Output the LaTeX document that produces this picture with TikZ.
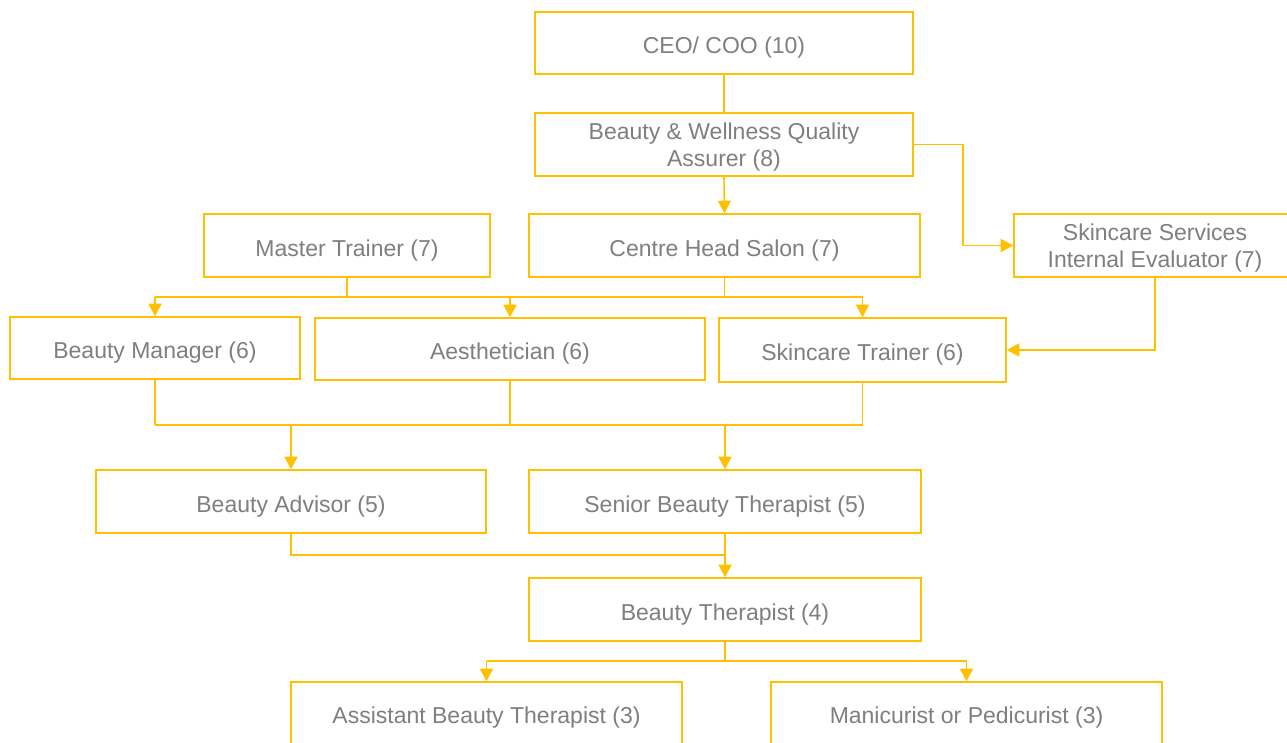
\documentclass[tikz,border=0pt]{standalone}
\usepackage{fontspec}
\setmainfont{Liberation Sans}
\usetikzlibrary{arrows.meta,calc}
\definecolor{gold}{HTML}{FFC000}
\definecolor{txt}{HTML}{7F7F7F}
\begin{document}
\begin{tikzpicture}[x=1pt,y=-1pt,
  boxbase/.style={draw=gold,line width=1.6pt,rectangle,inner sep=0pt,align=center,
    text=txt,font=\fontsize{23}{27}\selectfont,fill=white},
  box/.style={boxbase,text height=21.4pt,text depth=0pt},
  box2/.style={boxbase},
  conn/.style={draw=gold,line width=1.6pt},
  arr/.style={conn,-{Triangle[width=13pt,length=12.5pt]}}]
\useasboundingbox (0,0) rectangle (1287,742);
\clip (0,0) rectangle (1287,742);
\node[box,minimum width=378pt,minimum height=62pt] (ceo) at (724,43) {CEO/ COO (10)};
\node[box2,minimum width=378pt,minimum height=63pt] (bwqa) at (724,144.5) {\rule{0pt}{22.5pt}Beauty \& Wellness Quality\\Assurer (8)};
\node[box,minimum width=391pt,minimum height=63pt] (chs) at (724.5,245.5) {Centre Head Salon (7)};
\node[box,minimum width=286pt,minimum height=63pt] (mt) at (347,245.5) {Master Trainer (7)};
\node[box2,minimum width=282pt,minimum height=63pt] (eval) at (1155,245.5) {\rule{0pt}{22.5pt}Skincare Services\\Internal Evaluator (7)};
\node[box,minimum width=290pt,minimum height=62pt] (bm) at (155,348) {Beauty Manager (6)};
\node[box,minimum width=390pt,minimum height=62pt] (aes) at (510,349) {Aesthetician (6)};
\node[box,minimum width=287pt,minimum height=64pt] (st) at (862.5,350) {Skincare Trainer (6)};
\node[box,minimum width=390.5pt,minimum height=63pt] (ba) at (291,501.5) {Beauty Advisor (5)};
\node[box,minimum width=391.5pt,minimum height=63pt] (sbt) at (725,501.5) {Senior Beauty Therapist (5)};
\node[box,minimum width=391.5pt,minimum height=63pt] (bt) at (725,609.5) {Beauty Therapist (4)};
\node[box,minimum width=391.5pt,minimum height=62pt] (abt) at (486.5,713) {Assistant Beauty Therapist (3)};
\node[box,minimum width=391pt,minimum height=62pt] (mp) at (966.5,713) {Manicurist or Pedicurist (3)};
\coordinate (b1) at (0,297);
\coordinate (b2) at (0,425);
\coordinate (b3) at (0,555);
\coordinate (b4) at (0,661);
\coordinate (ej) at (963,0);
% top
\draw[conn] (ceo.south) -- (bwqa.north);
\draw[arr] (bwqa.south) -- (chs.north);
\draw[arr] (bwqa.east) -- (bwqa.east -| ej) |- (eval.west);
% bus 1
\draw[conn] (mt.south) -- (mt.south |- b1);
\draw[conn] (chs.south) -- (chs.south |- b1);
\draw[conn] (bm.north |- b1) -- (st.north |- b1);
\draw[arr] (bm.north |- b1) -- (bm.north);
\draw[arr] (aes.north |- b1) -- (aes.north);
\draw[arr] (st.north |- b1) -- (st.north);
\draw[arr] (eval.south) |- (st.east);
% bus 2
\draw[conn] (bm.south) -- (bm.south |- b2);
\draw[conn] (aes.south) -- (aes.south |- b2);
\draw[conn] (st.south) -- (st.south |- b2);
\draw[conn] (bm.south |- b2) -- (st.south |- b2);
\draw[arr] (ba.north |- b2) -- (ba.north);
\draw[arr] (sbt.north |- b2) -- (sbt.north);
% bus 3
\draw[conn] (ba.south) -- (ba.south |- b3) -- (sbt.south |- b3);
\draw[conn] (sbt.south) -- (sbt.south |- b3);
\draw[arr] (bt.north |- b3) -- (bt.north);
% bus 4
\draw[conn] (bt.south) -- (bt.south |- b4);
\draw[conn] (abt.north |- b4) -- (mp.north |- b4);
\draw[arr] (abt.north |- b4) -- (abt.north);
\draw[arr] (mp.north |- b4) -- (mp.north);
\end{tikzpicture}
\end{document}
